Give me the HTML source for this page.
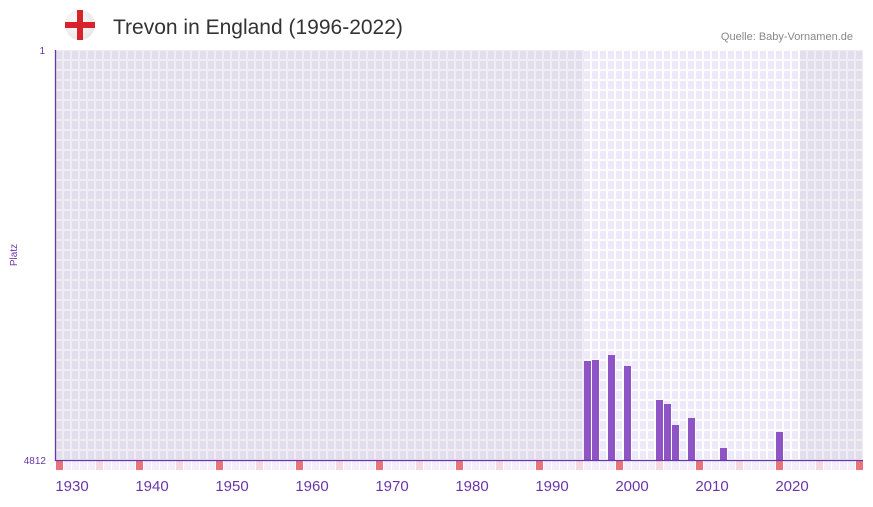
<!DOCTYPE html>
<html><head><meta charset="utf-8"><style>
body{margin:0;background:#fff;width:873px;height:502px;overflow:hidden;font-family:"Liberation Sans",sans-serif}
</style></head><body>
<svg width="873" height="502" xmlns="http://www.w3.org/2000/svg">
<defs>
<pattern id="gd" x="55" y="50" width="8" height="10" patternUnits="userSpaceOnUse">
<rect width="8" height="10" fill="#efedf3"/><rect x="1" y="1" width="6" height="8" fill="#e2deec"/>
</pattern>
<pattern id="gl" x="55" y="50" width="8" height="10" patternUnits="userSpaceOnUse">
<rect width="8" height="10" fill="#fdfcff"/><rect x="1" y="1" width="6" height="8" fill="#eee9f9"/>
</pattern>
<pattern id="bs" x="55" y="461" width="8" height="10" patternUnits="userSpaceOnUse">
<rect width="8" height="10" fill="#fff"/><rect x="1" y="0" width="7" height="9" fill="#f1edfa"/>
</pattern>
<radialGradient id="fl" cx="0.4" cy="0.4" r="0.7"><stop offset="0" stop-color="#fff"/><stop offset="1" stop-color="#e4e4e4"/></radialGradient>
</defs>
<circle cx="80" cy="25" r="15" fill="url(#fl)"/>
<rect x="65" y="22" width="30" height="6" fill="#d8232a"/>
<rect x="77" y="10" width="6" height="30" fill="#d8232a"/>
<text x="113" y="34" font-size="21" fill="#333">Trevon in England (1996-2022)</text>
<text x="853" y="40" font-size="11" fill="#888" text-anchor="end">Quelle: Baby-Vornamen.de</text>
<rect x="55" y="50" width="808" height="410" fill="url(#gd)"/>
<rect x="584" y="50" width="216" height="410" fill="url(#gl)"/>
<rect x="55" y="461" width="808" height="9" fill="url(#bs)"/>
<g fill="#e8737c">
<rect x="56" y="461" width="7" height="9"/><rect x="136" y="461" width="7" height="9"/><rect x="216" y="461" width="7" height="9"/><rect x="296" y="461" width="7" height="9"/><rect x="376" y="461" width="7" height="9"/><rect x="456" y="461" width="7" height="9"/><rect x="536" y="461" width="7" height="9"/><rect x="616" y="461" width="7" height="9"/><rect x="696" y="461" width="7" height="9"/><rect x="776" y="461" width="7" height="9"/><rect x="856" y="461" width="7" height="9"/>
</g>
<g fill="#f5d7df">
<rect x="96" y="461" width="7" height="9"/><rect x="176" y="461" width="7" height="9"/><rect x="256" y="461" width="7" height="9"/><rect x="336" y="461" width="7" height="9"/><rect x="416" y="461" width="7" height="9"/><rect x="496" y="461" width="7" height="9"/><rect x="576" y="461" width="7" height="9"/><rect x="656" y="461" width="7" height="9"/><rect x="736" y="461" width="7" height="9"/><rect x="816" y="461" width="7" height="9"/>
</g>
<g fill="#8e54c6">
<rect x="584" y="361" width="7" height="99"/><rect x="592" y="360" width="7" height="100"/><rect x="608" y="355" width="7" height="105"/><rect x="624" y="366" width="7" height="94"/><rect x="656" y="400" width="7" height="60"/><rect x="664" y="404" width="7" height="56"/><rect x="672" y="425" width="7" height="35"/><rect x="688" y="418" width="7" height="42"/><rect x="720" y="448" width="7" height="12"/><rect x="776" y="432" width="7" height="28"/>
</g>
<line x1="55.5" y1="50" x2="55.5" y2="461" stroke="#6a35a6" stroke-width="1.3"/>
<line x1="55" y1="460.5" x2="863" y2="460.5" stroke="#6a35a6" stroke-width="1.3"/>
<text x="45" y="54" font-size="10" fill="#6a35a6" text-anchor="end">1</text>
<text x="46" y="464" font-size="10" fill="#6a35a6" text-anchor="end">4812</text>
<text x="17" y="255" font-size="10" fill="#6a35a6" text-anchor="middle" transform="rotate(-90 17 255)">Platz</text>
<g font-size="15" fill="#6a35a6" text-anchor="middle">
<text x="72" y="491">1930</text><text x="152" y="491">1940</text><text x="232" y="491">1950</text><text x="312" y="491">1960</text><text x="392" y="491">1970</text><text x="472" y="491">1980</text><text x="552" y="491">1990</text><text x="632" y="491">2000</text><text x="712" y="491">2010</text><text x="792" y="491">2020</text>
</g>
</svg>
</body></html>
